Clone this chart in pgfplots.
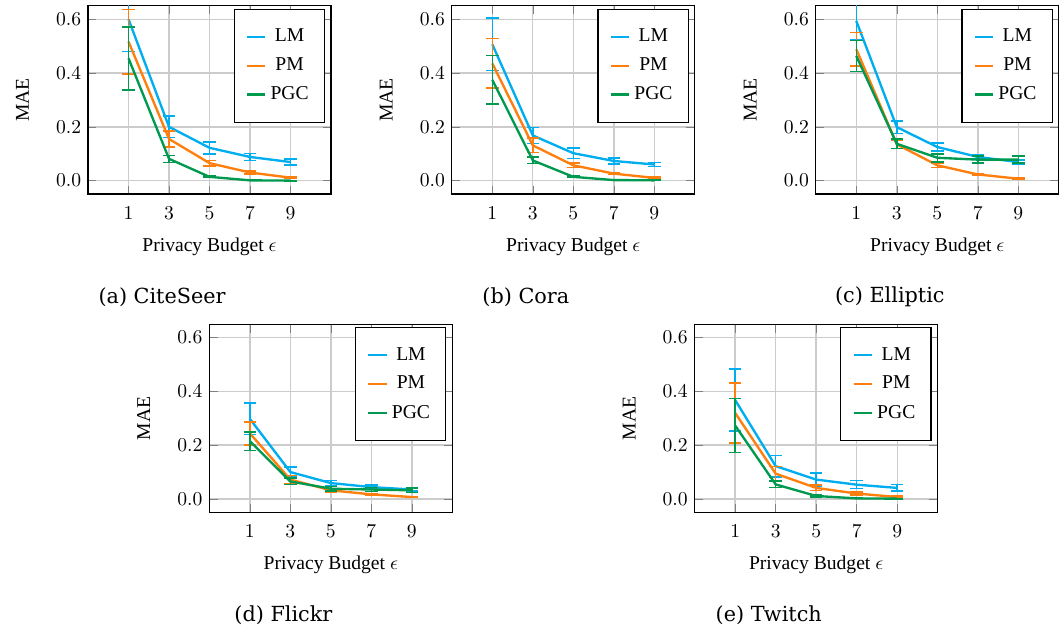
\documentclass[border=0pt]{standalone}
\usepackage{pgfplots}
\pgfplotsset{compat=1.18}
\usepackage{pgfplotstable}
\usepackage{fontspec}
\setmainfont{Liberation Serif}
\newfontfamily\capfont{DejaVu Serif}

\definecolor{lmc}{RGB}{0,174,239}
\definecolor{pmc}{RGB}{255,127,14}
\definecolor{pgcc}{RGB}{0,153,80}

% x  LM  err  PM  err  PGC  err
\pgfplotstableread{
x lm lme pm pme pgc pgce
1 0.600 0.120 0.517 0.120 0.455 0.117
3 0.200 0.040 0.155 0.030 0.081 0.013
5 0.122 0.022 0.065 0.010 0.014 0.003
7 0.088 0.013 0.030 0.005 0.001 0.001
9 0.069 0.011 0.011 0.003 0.000 0.001
}\citeseer
\pgfplotstableread{
x lm lme pm pme pgc pgce
1 0.507 0.097 0.436 0.092 0.375 0.090
3 0.168 0.030 0.131 0.027 0.075 0.012
5 0.102 0.020 0.057 0.008 0.014 0.003
7 0.073 0.011 0.026 0.004 0.002 0.001
9 0.060 0.008 0.010 0.003 0.001 0.001
}\cora
\pgfplotstableread{
x lm lme pm pme pgc pgce
1 0.594 0.070 0.489 0.062 0.464 0.058
3 0.199 0.023 0.135 0.015 0.137 0.018
5 0.125 0.015 0.057 0.008 0.085 0.015
7 0.088 0.008 0.023 0.003 0.078 0.013
9 0.069 0.008 0.007 0.002 0.078 0.013
}\elliptic
\pgfplotstableread{
x lm lme pm pme pgc pgce
1 0.298 0.058 0.244 0.043 0.215 0.035
3 0.100 0.019 0.072 0.015 0.065 0.012
5 0.059 0.010 0.032 0.006 0.038 0.008
7 0.044 0.007 0.017 0.004 0.035 0.008
9 0.035 0.006 0.007 0.002 0.032 0.008
}\flickr
\pgfplotstableread{
x lm lme pm pme pgc pgce
1 0.368 0.115 0.320 0.111 0.273 0.100
3 0.122 0.040 0.094 0.027 0.054 0.012
5 0.072 0.024 0.041 0.010 0.011 0.003
7 0.053 0.015 0.020 0.005 0.002 0.001
9 0.041 0.012 0.007 0.003 0.001 0.001
}\twitch

\pgfplotsset{
  maeplot/.style={
    scale only axis, width=124pt, height=96pt,
    xmin=-1, xmax=11, ymin=-0.05, ymax=0.65,
    xtick={1,3,5,7,9}, ytick={0,0.2,0.4,0.6},
    yticklabel style={/pgf/number format/.cd, fixed, fixed zerofill, precision=1},
    xticklabel style={yshift=-3pt},
    grid=major, major grid style={gray!40, line width=0.7pt},
    axis line style={line width=0.6pt},
    xlabel={Privacy Budget $\epsilon$}, ylabel={MAE},
    ylabel shift=7pt, xlabel shift=2.5pt,
    legend cell align=center,
    legend style={at={(0.975,0.985)}, anchor=north east,
      line width=0.6pt, row sep=2.7pt, inner xsep=6pt, inner ysep=8pt},
    legend image code/.code={\draw[#1] (0cm,0cm) -- (0.33cm,0cm);},
    every axis plot/.append style={line width=1.2pt},
    error bars/y dir=both, error bars/y explicit,
    error bars/error bar style={line width=0.8pt},
    error bars/error mark options={rotate=90, mark size=3.2pt, line width=0.8pt},
  }
}

\newcommand\threeplots[1]{%
  \addplot[lmc] table[x=x, y=lm, y error=lme] {#1};
  \addplot[pmc] table[x=x, y=pm, y error=pme] {#1};
  \addplot[pgcc] table[x=x, y=pgc, y error=pgce] {#1};
  \legend{LM, PM, PGC}
}

\begin{document}
\begin{tikzpicture}
\begin{axis}[maeplot, at={(0pt,0pt)}, anchor=south west]
  \threeplots{\citeseer}
\end{axis}
\begin{axis}[maeplot, at={(185.6pt,0pt)}, anchor=south west]
  \threeplots{\cora}
\end{axis}
\begin{axis}[maeplot, at={(371.3pt,0pt)}, anchor=south west]
  \threeplots{\elliptic}
\end{axis}
\begin{axis}[maeplot, at={(61.9pt,-162.4pt)}, anchor=south west]
  \threeplots{\flickr}
\end{axis}
\begin{axis}[maeplot, at={(309.5pt,-162.4pt)}, anchor=south west]
  \threeplots{\twitch}
\end{axis}

\node[font=\capfont\fontsize{10.6pt}{12pt}\selectfont] at (37.8pt,-52.6pt) {(a) CiteSeer};
\node[font=\capfont\fontsize{10.6pt}{12pt}\selectfont] at (223.4pt,-52.6pt) {(b) Cora};
\node[font=\capfont\fontsize{10.6pt}{12pt}\selectfont] at (409.1pt,-52.6pt) {(c) Elliptic};
\node[font=\capfont\fontsize{10.6pt}{12pt}\selectfont] at (99.7pt,-215pt) {(d) Flickr};
\node[font=\capfont\fontsize{10.6pt}{12pt}\selectfont] at (347.3pt,-215pt) {(e) Twitch};

\pgfresetboundingbox
\path (-44.9pt,99pt) rectangle (495.9pt,-226pt);
\end{tikzpicture}
\end{document}
